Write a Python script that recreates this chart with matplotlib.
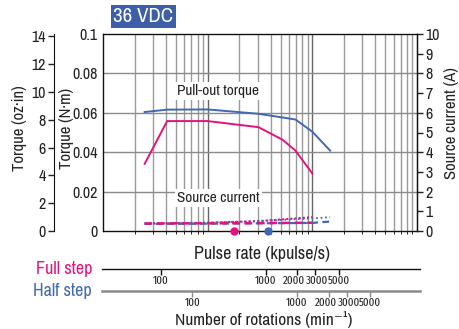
import matplotlib
matplotlib.use("Agg")
import matplotlib.pyplot as plt
from matplotlib.font_manager import FontProperties
import matplotlib.transforms as mtransforms
import numpy as np

plt.rcParams['font.family'] = ['Archivo Narrow', 'DejaVu Sans']

# ---------------- data ----------------
full_x = [0.25, 0.41, 1.0, 3.06, 5.2, 6.9, 10.0]
full_torque = [0.0341, 0.0558, 0.0558, 0.0527, 0.0463, 0.0408, 0.0292]
half_x = [0.25, 0.41, 1.0, 3.06, 6.9, 10.0, 14.8]
half_torque = [0.0604, 0.0616, 0.0617, 0.0595, 0.0566, 0.0504, 0.0408]

full_cur_x = [0.25, 1.0, 3.0, 10.0]
full_cur_dash = [0.38, 0.39, 0.40, 0.42]
full_cur_dot = [0.38, 0.42, 0.50, 0.70]
half_cur_x = [0.25, 1.0, 3.0, 10.0, 14.8]
half_cur_dash = [0.36, 0.37, 0.39, 0.41, 0.48]
half_cur_dot = [0.38, 0.42, 0.50, 0.64, 0.70]

full_mark_x = 1.77
half_mark_x = 3.73

rpm_ticks = [100, 1000, 2000, 3000, 5000]
full_kpps_per_rpm = 1 / 280.0
half_kpps_per_rpm = 1 / 140.0

nm_ticks = [0, 0.02, 0.04, 0.06, 0.08, 0.1]
nm_labels = ['0', '0.02', '0.04', '0.06', '0.08', '0.1']
oz_ticks = [0, 2, 4, 6, 8, 10, 12, 14]
amp_ticks = list(range(0, 11))
x_ticks = [0.1, 1, 10, 100]
x_labels = ['0.1', '1', '10', '100']
OZIN_PER_NM = 141.6

MAG = '#e4127f'
BLUE = '#4268b3'
TXT = '#222222'
FS = 11.5
PX = 72 / 100  # points per pixel
NARROW = FontProperties(family=['Fira Sans Extra Condensed', 'Barlow Condensed', 'Archivo Narrow'],
                        size=8.5)

W, H = 460, 329
fig = plt.figure(figsize=(W / 100, H / 100), dpi=100)

L, R, T, B = 103, 417, 34, 231
ax = fig.add_axes([L / W, (H - B) / H, (R - L) / W, (B - T) / H])
ax.set_xscale('log')
ax.set_xlim(0.1, 100)
ax.set_ylim(0, 0.1)

# grid
for dec in [0.1, 1, 10]:
    for m in range(2, 10):
        ax.axvline(dec * m, color='#9a9a9a', lw=1.0, zorder=0)
for v in [1, 10]:
    ax.axvline(v, color='#666666', lw=1.0, zorder=0)
for yv in [0.02, 0.04, 0.06, 0.08]:
    ax.axhline(yv, color='#8a8a8a', lw=1.0, zorder=0)

ax.set_xticks(x_ticks)
ax.set_xticklabels(x_labels)
ax.xaxis.set_minor_locator(matplotlib.ticker.NullLocator())
ax.tick_params(axis='x', length=0, pad=2, labelsize=FS, colors=TXT)
xl = ax.get_xticklabels()
xl[0].set_horizontalalignment('left')
xl[-1].set_horizontalalignment('right')
ax.set_yticks(nm_ticks)
ax.set_yticklabels(nm_labels)
ax.tick_params(axis='y', length=0, pad=4, labelsize=FS, colors=TXT)
for s in ax.spines.values():
    s.set_color('#111111')
    s.set_linewidth(1.0)

# torque curves
ax.plot(half_x, half_torque, color=BLUE, lw=1.4, zorder=3)
ax.plot(full_x, full_torque, color=MAG, lw=1.4, zorder=3)

# current curves (on amp axis)
axr = ax.twinx()
axr.set_ylim(0, 10)
axr.set_yticks(amp_ticks)
axr.tick_params(axis='y', direction='out', length=4, width=1, pad=2, labelsize=FS, colors=TXT)
axr.set_xscale('log')
axr.set_xlim(0.1, 100)
for s in axr.spines.values():
    s.set_visible(False)
axr.spines['right'].set_visible(True)
axr.spines['right'].set_color('#111111')
axr.plot(full_cur_x, full_cur_dot, color=MAG, lw=1.5, ls=(0, (1, 1)), zorder=3)
axr.plot(half_cur_x, half_cur_dot, color=BLUE, lw=1.3, ls=(0, (1, 1.5)), zorder=3)
axr.plot(half_cur_x, half_cur_dash, color=BLUE, lw=1.6, ls=(0, (3, 2)), zorder=3)
axr.plot(full_cur_x, full_cur_dash, color=MAG, lw=1.8, ls=(0, (3, 2)), zorder=4)
axr.plot([full_mark_x], [0], 'o', color=MAG, ms=5, clip_on=False, zorder=5)
axr.plot([half_mark_x], [0], 'o', color=BLUE, ms=5, clip_on=False, zorder=5)

# oz-in axis
axo = ax.twinx()
axo.set_ylim(0, 0.1 * OZIN_PER_NM)
for s in axo.spines.values():
    s.set_visible(False)
axo.spines['left'].set_visible(True)
axo.spines['left'].set_position(('outward', 49 * PX))
axo.spines['left'].set_color('#111111')
axo.yaxis.set_ticks_position('left')
axo.set_yticks(oz_ticks)
axo.tick_params(axis='y', direction='out', length=4, width=1, pad=2, labelsize=FS, colors=TXT)
axo.set_xticks([])

# axis labels
fig.text(20 / W, (H - 128) / H, 'Torque (oz·in)', rotation=90, ha='center', va='center',
         fontsize=FS + 0.5, color=TXT)
fig.text(66 / W, (H - 128) / H, 'Torque (N·m)', rotation=90, ha='center', va='center',
         fontsize=FS + 0.5, color=TXT)
fig.text(452 / W, (H - 123) / H, 'Source current (A)', rotation=90, ha='center', va='center',
         fontsize=FS + 0.5, color=TXT)
fig.text(262 / W, (H - 254) / H, 'Pulse rate (kpulse/s)', ha='center', va='center',
         fontsize=FS + 1.5, color=TXT)

# annotations
ax.text(1.245, 0.0711, 'Pull-out torque', ha='center', va='center', fontsize=FS - 0.5, color=TXT,
        bbox=dict(facecolor='white', edgecolor='none', pad=1.5), zorder=4)
ax.text(1.27, 0.0168, 'Source current', ha='center', va='center', fontsize=FS - 0.5, color=TXT,
        bbox=dict(facecolor='white', edgecolor='none', pad=1.5), zorder=4)

# title
fig.text(143.5 / W, (H - 16.5) / H, '36 VDC', ha='center', va='center', fontsize=15,
         fontweight='bold', color='white',
         bbox=dict(facecolor='#3d5ea8', edgecolor='none', boxstyle='square,pad=0.1'))

# rpm scales
LABEL_SHIFT_PX = {2000: -3, 3000: 2}

def rpm_axis(ypix, kpps_per_rpm, color, lw, label, lcolor):
    a = fig.add_axes([L / W, (H - ypix) / H, (R - L) / W, 0.001])
    a.set_xscale('log')
    a.set_xlim(0.1, 100)
    a.set_yticks([])
    for s in a.spines.values():
        s.set_visible(False)
    a.spines['bottom'].set_visible(True)
    a.spines['bottom'].set_color(color)
    a.spines['bottom'].set_linewidth(lw)
    a.spines['bottom'].set_bounds(0.098, 107)
    a.set_xticks([r * kpps_per_rpm for r in rpm_ticks])
    a.set_xticklabels([str(r) for r in rpm_ticks], fontproperties=NARROW)
    a.xaxis.set_minor_locator(matplotlib.ticker.NullLocator())
    a.tick_params(axis='x', direction='out', length=4, width=1, color=color, pad=1,
                  labelcolor=TXT)
    for r, t in zip(rpm_ticks, a.get_xticklabels()):
        dx = LABEL_SHIFT_PX.get(r, 0)
        if dx:
            t.set_transform(t.get_transform() +
                            mtransforms.ScaledTranslation(dx / 100, 0, fig.dpi_scale_trans))
    a.patch.set_visible(False)
    fig.text(92 / W, (H - ypix) / H, label, ha='right', va='center', fontsize=FS + 1.5, color=lcolor)
    return a

rpm_axis(269, full_kpps_per_rpm, '#111111', 1.0, 'Full step', MAG)
rpm_axis(291, half_kpps_per_rpm, '#8a8a8a', 1.8, 'Half step', BLUE)

fig.text(264 / W, (H - 319) / H, 'Number of rotations (min⁻¹)', ha='center', va='center',
         fontsize=FS + 1, color=TXT)

fig.savefig('out.png', dpi=100)
